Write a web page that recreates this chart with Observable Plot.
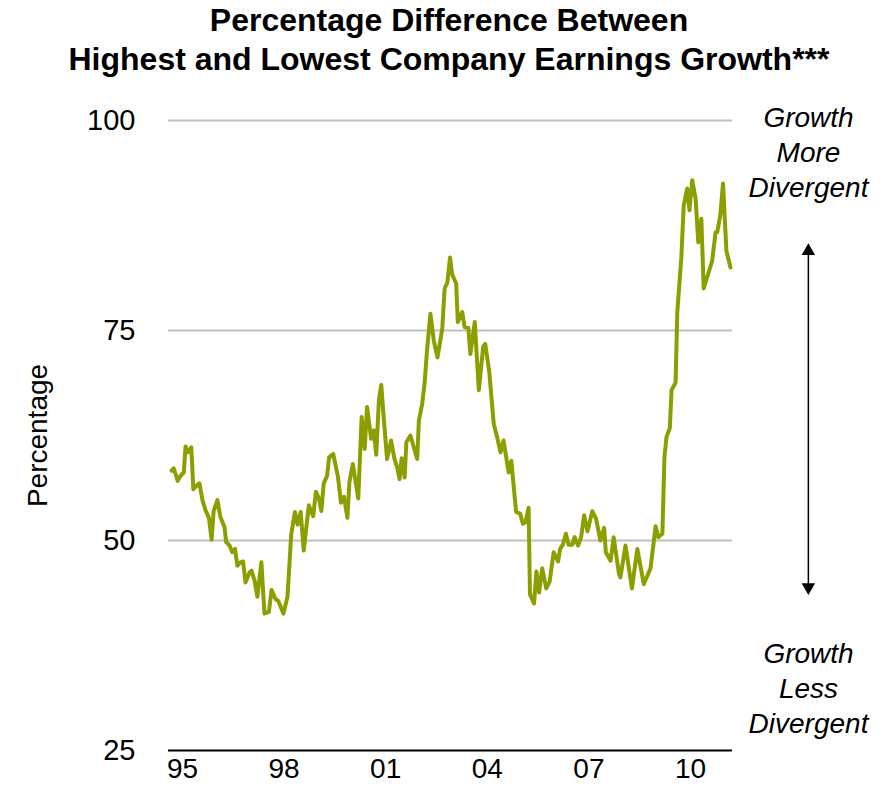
<!DOCTYPE html>
<html><head><meta charset="utf-8">
<script src="https://cdn.jsdelivr.net/npm/d3@7"></script>
<script src="https://cdn.jsdelivr.net/npm/@observablehq/plot@0.6"></script>
<style>
body{margin:0;background:#fff;font-family:"Liberation Sans",Arial,sans-serif;}
#title{width:888px;height:90px;box-sizing:border-box;padding-top:1px;padding-left:10px;text-align:center;font-weight:bold;font-size:32px;line-height:39px;color:#000;}
#chart svg{display:block}
</style></head><body>
<div id="title"></div><div id="chart"></div>
<script>
const titleLines = ["Percentage Difference Between", "Highest and Lowest Company Earnings Growth***"];
const yLabel = "Percentage";
const yTicks = [25, 50, 75, 100];
const gridValues = [50, 75, 100];
const xTicks = [1995, 1998, 2001, 2004, 2007, 2010];
const xTickLabels = ["95", "98", "01", "04", "07", "10"];
const noteTop = "Growth\nMore\nDivergent";
const noteBottom = "Growth\nLess\nDivergent";

const years = [
1994.68,1994.74,1994.86,1994.94,1995.04,1995.09,1995.16,1995.26,1995.32,1995.41,
1995.50,1995.59,1995.68,1995.78,1995.86,1995.92,1996.03,1996.12,1996.24,1996.29,
1996.39,1996.47,1996.55,1996.62,1996.71,1996.79,1996.86,1996.98,1997.04,1997.13,
1997.21,1997.33,1997.42,1997.55,1997.63,1997.75,1997.83,1997.98,1998.10,1998.21,
1998.32,1998.40,1998.49,1998.58,1998.73,1998.86,1998.94,1999.03,1999.10,1999.17,
1999.27,1999.33,1999.45,1999.59,1999.68,1999.77,1999.87,1999.93,2000.03,2000.19,
2000.29,2000.38,2000.45,2000.57,2000.65,2000.72,2000.80,2000.87,2000.94,2001.04,
2001.16,2001.26,2001.34,2001.41,2001.47,2001.56,2001.61,2001.73,2001.83,2001.93,
2001.98,2002.08,2002.15,2002.22,2002.32,2002.42,2002.53,2002.67,2002.74,2002.82,
2002.90,2002.96,2003.08,2003.13,2003.26,2003.33,2003.44,2003.50,2003.63,2003.75,
2003.88,2003.94,2004.06,2004.19,2004.29,2004.39,2004.48,2004.63,2004.71,2004.85,
2004.97,2005.05,2005.13,2005.22,2005.26,2005.38,2005.45,2005.53,2005.62,2005.74,
2005.84,2005.96,2006.09,2006.15,2006.23,2006.32,2006.40,2006.51,2006.58,2006.68,
2006.77,2006.86,2006.96,2007.10,2007.21,2007.34,2007.45,2007.50,2007.64,2007.73,
2007.89,2007.93,2008.08,2008.27,2008.43,2008.62,2008.82,2008.97,2009.05,2009.17,
2009.23,2009.29,2009.39,2009.44,2009.56,2009.61,2009.73,2009.80,2009.90,2009.97,
2010.05,2010.15,2010.23,2010.32,2010.39,2010.64,2010.74,2010.79,2010.88,2010.96,
2011.06,2011.18];

const values = [
58.3,58.6,57.1,57.7,58.1,61.2,60.5,61.1,56.1,56.5,
56.8,54.8,53.6,52.7,50.1,53.5,54.8,52.8,51.6,49.8,
49.4,48.6,49.0,47.0,47.4,47.5,45.0,46.2,46.4,45.2,
43.3,47.4,41.3,41.5,44.1,43.0,42.8,41.3,43.3,50.7,
53.4,51.9,53.4,48.8,54.2,52.9,55.8,55.0,53.5,56.8,
57.7,59.9,60.3,57.6,54.5,55.2,52.7,57.0,59.1,55.0,
64.7,60.9,65.9,62.1,63.1,60.2,66.7,68.5,64.7,59.7,
61.9,59.7,58.7,57.3,59.8,57.5,61.7,62.5,61.1,59.7,
64.3,66.3,68.8,72.6,77.0,73.8,71.8,75.2,80.0,80.7,
83.7,81.7,80.6,76.0,77.2,75.4,75.3,72.2,76.0,67.9,
73.1,73.4,70.0,63.9,62.3,60.5,61.9,58.1,59.5,53.4,
53.2,52.0,52.2,53.9,43.6,42.5,46.3,43.8,46.7,44.3,
45.1,48.6,47.5,49.0,49.5,50.8,49.5,49.5,50.4,49.4,
50.4,53.0,51.1,53.5,52.6,50.0,51.5,48.6,47.6,50.4,
46.0,45.6,49.4,44.3,49.0,44.8,46.7,51.7,50.4,50.8,
59.9,62.3,63.4,67.9,68.8,77.2,83.7,89.9,91.9,89.3,
92.9,90.7,85.5,88.3,80.0,83.3,86.7,86.7,88.7,92.5,
84.5,82.5];

const data = years.map((year, i) => ({year, value: values[i]}));

document.getElementById("title").innerHTML = titleLines.join("<br>");

const font = '"Liberation Sans", Arial, sans-serif';
const arrowX = 2013.48;

const chart = Plot.plot({
  width: 888,
  height: 719,
  marginTop: 30,
  marginBottom: 59,
  marginLeft: 168,
  marginRight: 156,
  style: {fontFamily: font, fontSize: "28px", color: "#000", background: "#fff", overflow: "visible"},
  x: {type: "linear", domain: [1994.587, 2011.24]},
  y: {domain: [25, 100]},
  marks: [
    Plot.ruleY(gridValues, {stroke: "#bfbfbf", strokeWidth: 2}),
    Plot.ruleY([yTicks[0]], {stroke: "#000", strokeWidth: 2}),
    Plot.axisY(yTicks, {tickSize: 0, tickPadding: 33, label: null, fontSize: 29}),
    Plot.axisX(xTicks, {tickSize: 0, tickPadding: 8, label: null, fontSize: 28,
      tickFormat: d => xTickLabels[xTicks.indexOf(d)]}),
    Plot.line(data, {x: "year", y: "value", stroke: "#8c9f00", strokeWidth: 4, strokeLinejoin: "round", strokeLinecap: "round"}),
    Plot.text([yLabel], {frameAnchor: "left", dx: -130, rotate: -90, fontSize: 28, textAnchor: "middle"}),
    Plot.text([noteTop], {frameAnchor: "top-right", dx: 76, dy: 30, textAnchor: "middle", lineAnchor: "middle", lineHeight: 1.25, fontStyle: "italic", fontSize: 28}),
    Plot.text([noteBottom], {frameAnchor: "bottom-right", dx: 76, dy: -64, textAnchor: "middle", lineAnchor: "middle", lineHeight: 1.25, fontStyle: "italic", fontSize: 28}),
    Plot.ruleX([arrowX], {y1: 44.5, y2: 84.4, stroke: "#000", strokeWidth: 1.5}),
    Plot.dot([84.45], {x: arrowX, y: d => d, symbol: "triangle", r: 5, fill: "#000", stroke: "none"}),
    Plot.dot([44.45], {x: arrowX, y: d => d, symbol: "triangle", r: 5, rotate: 180, fill: "#000", stroke: "none"})
  ]
});
document.getElementById("chart").appendChild(chart);
</script></body></html>
